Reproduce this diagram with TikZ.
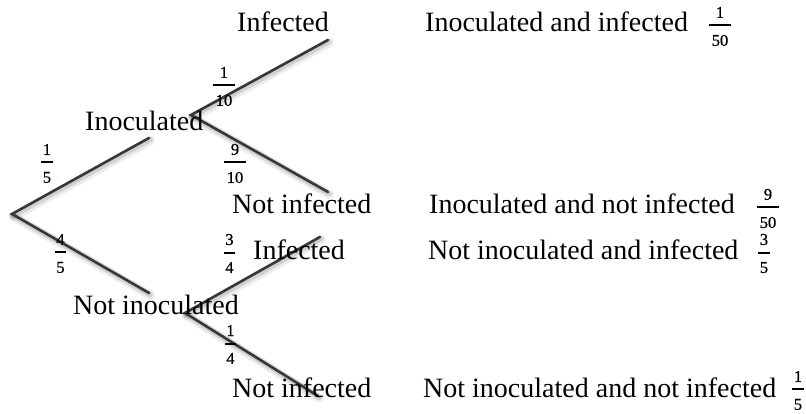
\documentclass[tikz,border=0pt]{standalone}
\usepackage{fontspec}
\setmainfont{Liberation Serif}
\newfontfamily\digfont{Liberation Serif}[FakeBold=0.8]
\newcommand\fsz{\digfont\fontsize{16.5}{16.5}\selectfont}
\newcommand\frc[3][12pt]{\vbox{\offinterlineskip\fsz
  \hbox to #1{\hss #2\hss}\kern6.5pt
  \hrule height 2pt\kern8.5pt
  \hbox to #1{\hss #3\hss}}}
\tikzset{
  lbl/.style={anchor=base west, inner sep=0pt, font=\fontsize{28}{30}\selectfont},
  fracnode/.style={inner sep=0pt, anchor=center},
  branch/.style={draw=black!78, line width=2.6pt, line cap=round},
  shadowA/.style={draw=black, opacity=0.07, line width=9pt, line cap=round},
  shadowB/.style={draw=black, opacity=0.12, line width=5.5pt, line cap=round},
}
\begin{document}
\begin{tikzpicture}[x=1pt,y=-1pt]
\useasboundingbox (0,0) rectangle (806,414);
% branch points
\coordinate (root) at (12,214);
\coordinate (a) at (149,138);
\coordinate (b) at (149,293);
\coordinate (i0) at (191,115);
\coordinate (i1) at (328,40);
\coordinate (i2) at (328,192);
\coordinate (n0) at (185,313);
\coordinate (n1) at (320,237);
\coordinate (n2) at (318,396);
% shadows
\foreach \p/\q in {root/a,root/b,i0/i1,i0/i2,n0/n1,n0/n2}{
  \draw[shadowA] ([shift={(1.5,2.5)}]\p) -- ([shift={(1.5,2.5)}]\q);
  \draw[shadowB] ([shift={(1,1.5)}]\p) -- ([shift={(1,1.5)}]\q);
}
% branches
\draw[branch] (a) -- (root) -- (b);
\draw[branch] (i1) -- (i0) -- (i2);
\draw[branch] (n1) -- (n0) -- (n2);
% labels
\node[lbl] (inf1) at (237,32) {Infected};
\node[lbl] (inoc) at (85,131) {Inoculated};
\node[lbl] (ninf1) at (232,214) {Not infected};
\node[lbl] (inf2) at (253,260) {Infected};
\node[lbl] (ninoc) at (73,314) {Not inoculated};
\node[lbl] (ninf2) at (232,397) {Not infected};
\node[lbl] (r1) at (425,32) {Inoculated and infected};
\node[lbl] (r2) at (429,214) {Inoculated and not infected};
\node[lbl] (r3) at (428,260) {Not inoculated and infected};
\node[lbl] (r4) at (423,397) {Not inoculated and not infected};
% branch probabilities
\node[fracnode] (p1) at (47,163.5) {\frc[11pt]{1}{5}};
\node[fracnode] (p2) at (60.5,253.5) {\frc[11pt]{4}{5}};
\node[fracnode] (p3) at (224,86.5) {\frc[22pt]{1}{10}};
\node[fracnode] (p4) at (235,163.5) {\frc[22pt]{9}{10}};
\node[fracnode] (p5) at (229.5,253.5) {\frc[11pt]{3}{4}};
\node[fracnode] (p6) at (230.5,344.5) {\frc[11pt]{1}{4}};
% outcome probabilities
\node[fracnode] (q1) at (720,26.5) {\frc[22pt]{1}{50}};
\node[fracnode] (q2) at (768,208.5) {\frc[22pt]{9}{50}};
\node[fracnode] (q3) at (764,253.5) {\frc[12pt]{3}{5}};
\node[fracnode] (q4) at (798,390.5) {\frc[12pt]{1}{5}};
\end{tikzpicture}
\end{document}
